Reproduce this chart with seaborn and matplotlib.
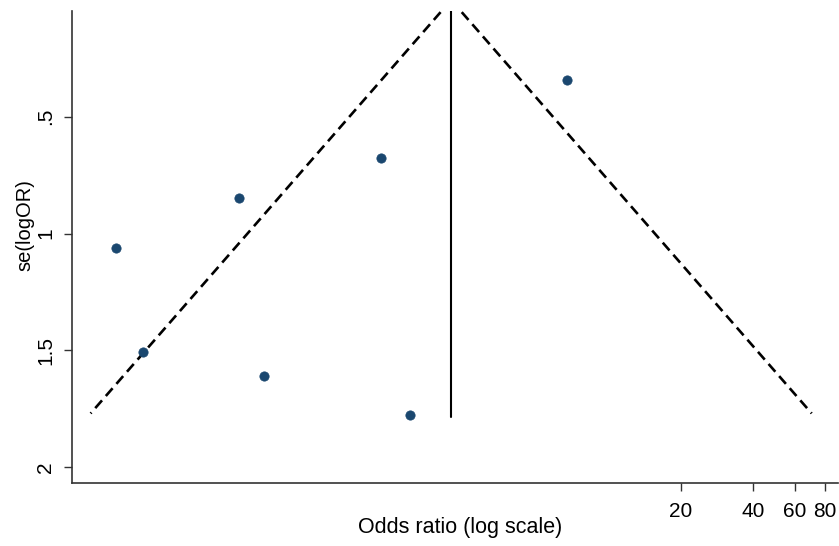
import numpy as np
import pandas as pd
import matplotlib
matplotlib.use("Agg")
import matplotlib.pyplot as plt
import seaborn as sns

# Data
odds_ratio = [6.68, 1.115, 0.284, 0.087, 0.113, 0.362, 1.474]
se_logor = [0.343, 0.677, 0.848, 1.062, 1.507, 1.610, 1.777]
pooled_or = 2.19
se_max = 1.77
x_ticks = [20, 40, 60, 80]
x_tick_labels = ["20", "40", "60", "80"]
y_ticks = [0.5, 1.0, 1.5, 2.0]
y_tick_labels = [".5", "1", "1.5", "2"]

sns.set_theme(style="white")
plt.rcParams['font.family'] = ['Liberation Sans', 'DejaVu Sans']

fig = plt.figure(figsize=(8.39, 5.46), dpi=100)
W, H = 839, 546
left, right, top, bottom = 72, 838, 11, 483
ax = fig.add_axes([left / W, 1 - bottom / H, (right - left) / W, (bottom - top) / H])

df = pd.DataFrame({"OR": odds_ratio, "se": se_logor})
sns.scatterplot(data=df, x="OR", y="se", ax=ax, color="#1a476f", s=45,
                edgecolor="#1a476f", linewidth=0.5, zorder=3)

# pseudo 95% confidence limits
se_line = np.array([0.0, se_max])
lc = np.log(pooled_or)
ax.plot(np.exp(lc - 1.96 * se_line), se_line, color="black", lw=1.9,
        dashes=(3.9, 2.2), zorder=2)
ax.plot(np.exp(lc + 1.96 * se_line), se_line, color="black", lw=1.9,
        dashes=(3.9, 2.2), zorder=2)
ax.plot([pooled_or, pooled_or], [0, se_max + 0.015], color="black", lw=1.5, zorder=2)

ax.set_xscale("log")
ax.set_xlim(0.0570, 90.6)
ax.set_ylim(2.068, 0.047)
ax.set_xticks(x_ticks)
ax.set_xticklabels(x_tick_labels)
ax.xaxis.set_minor_locator(matplotlib.ticker.NullLocator())
ax.set_yticks(y_ticks)
ax.set_yticklabels(y_tick_labels, rotation=90, va="center")

for s in ["top", "right"]:
    ax.spines[s].set_visible(False)
for s in ["left", "bottom"]:
    ax.spines[s].set_color("#333333")
    ax.spines[s].set_linewidth(1.2)

ax.tick_params(axis="both", which="major", direction="out", length=6, width=1,
               color="#333333", labelsize=15, labelcolor="black",
               bottom=True, left=True)
ax.tick_params(axis="x", pad=8)
ax.tick_params(axis="y", pad=6)

ax.set_xlabel("Odds ratio (log scale)", fontsize=15.5, color="black")
ax.set_ylabel("se(logOR)", fontsize=14.5, color="black")
ax.yaxis.set_label_coords(-47 / (right - left), 1 - (225 - top) / (bottom - top))
ax.xaxis.set_label_coords((460 - left) / (right - left), -(528 - bottom) / (bottom - top))
ax.xaxis.label.set_va("center")
ax.yaxis.label.set_va("center")

fig.savefig("out.png", dpi=100)
